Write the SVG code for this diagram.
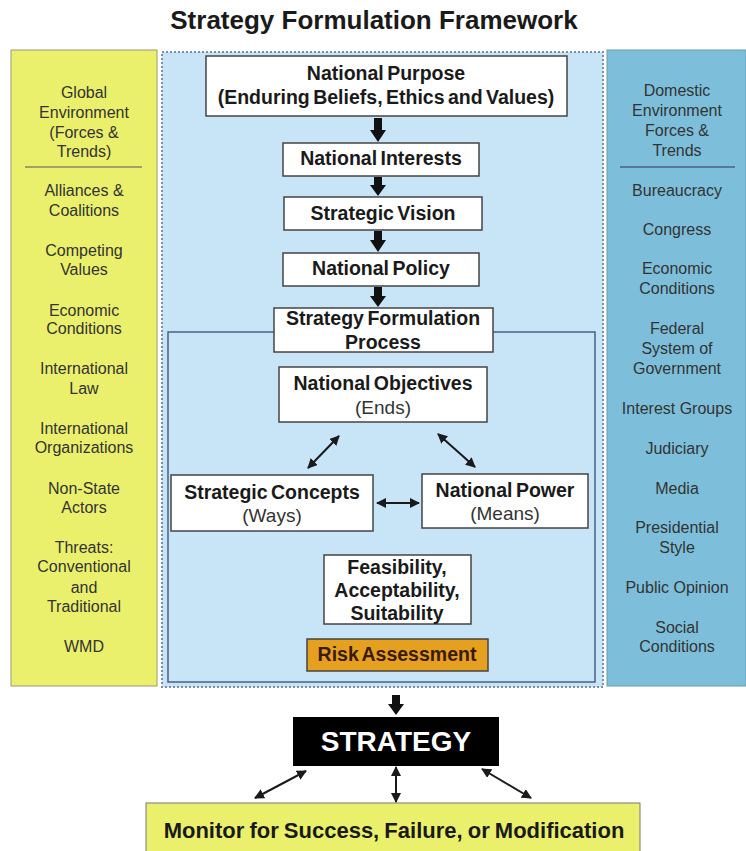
<svg xmlns="http://www.w3.org/2000/svg" width="746" height="851" viewBox="0 0 746 851">
<defs>
<marker id="ah" viewBox="0 0 10 10" refX="9" refY="5" markerWidth="5" markerHeight="5" orient="auto-start-reverse" markerUnits="strokeWidth">
<path d="M0,0 L10,5 L0,10 z" fill="#1a1a1a"/>
</marker>
<style>
.side{font-family:"Liberation Sans",Arial,sans-serif;font-size:16px;fill:#333;text-anchor:middle}
.b{font-family:"Liberation Sans",Arial,sans-serif;font-size:19.5px;font-weight:bold;fill:#1a1a1a;text-anchor:middle;word-spacing:-2px}
.r{font-family:"Liberation Sans",Arial,sans-serif;font-size:19px;fill:#333;text-anchor:middle}
.box{fill:#fff;stroke:#444;stroke-width:1.5}
.thin{stroke:#1a1a1a;stroke-width:2;fill:none;marker-start:url(#ah);marker-end:url(#ah)}
.thick{fill:#111}
</style>
</defs>
<rect width="746" height="851" fill="#fff"/>
<text x="374" y="29" style="font-family:'Liberation Sans',Arial,sans-serif;font-size:26px;font-weight:bold;fill:#1a1a1a;text-anchor:middle">Strategy Formulation Framework</text>

<g id="global-panel">
<rect x="11" y="50" width="146" height="636" fill="#EAF06C" stroke="#9a9a70" stroke-width="1"/>
<text class="side" x="84" y="98">Global</text>
<text class="side" x="84" y="118">Environment</text>
<text class="side" x="84" y="138">(Forces &amp;</text>
<text class="side" x="84" y="157">Trends)</text>
<line x1="25" y1="167" x2="142" y2="167" stroke="#555" stroke-width="1"/>
<text class="side" x="84" y="196">Alliances &amp;</text>
<text class="side" x="84" y="216">Coalitions</text>
<text class="side" x="84" y="256">Competing</text>
<text class="side" x="84" y="275">Values</text>
<text class="side" x="84" y="316">Economic</text>
<text class="side" x="84" y="334">Conditions</text>
<text class="side" x="84" y="374">International</text>
<text class="side" x="84" y="394">Law</text>
<text class="side" x="84" y="434">International</text>
<text class="side" x="84" y="453">Organizations</text>
<text class="side" x="84" y="494">Non-State</text>
<text class="side" x="84" y="513">Actors</text>
<text class="side" x="84" y="553">Threats:</text>
<text class="side" x="84" y="572">Conventional</text>
<text class="side" x="84" y="593">and</text>
<text class="side" x="84" y="612">Traditional</text>
<text class="side" x="84" y="652">WMD</text>
</g>

<g id="domestic-panel">
<rect x="607" y="50" width="139" height="636" fill="#7DBFDA" stroke="#6a9ab0" stroke-width="1"/>
<text class="side" x="677" y="96">Domestic</text>
<text class="side" x="677" y="116">Environment</text>
<text class="side" x="677" y="136">Forces &amp;</text>
<text class="side" x="677" y="156">Trends</text>
<line x1="620" y1="167" x2="735" y2="167" stroke="#335" stroke-width="1"/>
<text class="side" x="677" y="196">Bureaucracy</text>
<text class="side" x="677" y="235">Congress</text>
<text class="side" x="677" y="274">Economic</text>
<text class="side" x="677" y="294">Conditions</text>
<text class="side" x="677" y="334">Federal</text>
<text class="side" x="677" y="354">System of</text>
<text class="side" x="677" y="374">Government</text>
<text class="side" x="677" y="414">Interest Groups</text>
<text class="side" x="677" y="454">Judiciary</text>
<text class="side" x="677" y="494">Media</text>
<text class="side" x="677" y="533">Presidential</text>
<text class="side" x="677" y="553">Style</text>
<text class="side" x="677" y="593">Public Opinion</text>
<text class="side" x="677" y="633">Social</text>
<text class="side" x="677" y="652">Conditions</text>
</g>

<g id="center-panel">
<rect x="162" y="52" width="441" height="635" fill="#C8E4F7" stroke="#7a8fa8" stroke-width="2" stroke-dasharray="2,2"/>
</g>
<g id="process-panel">
<rect x="168" y="332" width="427" height="350" fill="#C8E4F7" stroke="#4a6080" stroke-width="1.5"/>
</g>

<g id="national-purpose">
<rect class="box" x="206" y="56" width="361" height="60"/>
<text class="b" x="386" y="80">National Purpose</text>
<text class="b" x="386" y="104">(Enduring Beliefs, Ethics and Values)</text>
</g>
<g id="national-interests">
<rect class="box" x="283" y="143" width="196" height="33"/>
<text class="b" x="381" y="165">National Interests</text>
</g>
<g id="strategic-vision">
<rect class="box" x="284" y="197" width="198" height="33"/>
<text class="b" x="383" y="220">Strategic Vision</text>
</g>
<g id="national-policy">
<rect class="box" x="283" y="253" width="196" height="33"/>
<text class="b" x="381" y="275">National Policy</text>
</g>
<g id="strategy-formulation-process">
<rect class="box" x="274" y="308" width="219" height="44"/>
<text class="b" x="383" y="325">Strategy Formulation</text>
<text class="b" x="383" y="349">Process</text>
</g>
<g id="national-objectives">
<rect class="box" x="279" y="367" width="208" height="55"/>
<text class="b" x="383" y="390">National Objectives</text>
<text class="r" x="383" y="414">(Ends)</text>
</g>
<g id="strategic-concepts">
<rect class="box" x="171" y="475" width="202" height="56"/>
<text class="b" x="272" y="499">Strategic Concepts</text>
<text class="r" x="272" y="522">(Ways)</text>
</g>
<g id="national-power">
<rect class="box" x="422" y="474" width="166" height="54"/>
<text class="b" x="505" y="497">National Power</text>
<text class="r" x="505" y="520">(Means)</text>
</g>
<g id="feasibility">
<rect class="box" x="324" y="555" width="147" height="69"/>
<text class="b" x="397" y="574">Feasibility,</text>
<text class="b" x="397" y="597">Acceptability,</text>
<text class="b" x="397" y="620">Suitability</text>
</g>
<g id="risk-assessment">
<rect x="307" y="639" width="181" height="32" fill="#E6A020" stroke="#444" stroke-width="1.5"/>
<text class="b" x="397" y="661" style="fill:#3a1a00">Risk Assessment</text>
</g>
<g id="strategy">
<rect x="293" y="717" width="206" height="49" fill="#000"/>
<text x="396" y="751" style="font-family:'Liberation Sans',Arial,sans-serif;font-size:28px;font-weight:bold;fill:#fff;text-anchor:middle">STRATEGY</text>
</g>
<g id="monitor">
<rect x="146" y="803" width="494" height="60" fill="#EAF06C" stroke="#777" stroke-width="1"/>
<text x="394" y="838" style="font-family:'Liberation Sans',Arial,sans-serif;font-size:22px;font-weight:bold;fill:#1a1a1a;text-anchor:middle;word-spacing:-1px">Monitor for Success, Failure, or Modification</text>
</g>

<g id="connectors">
<polygon class="thick" points="374,118 382,118 382,130 386,130 378,142 370,130 374,130"/>
<polygon class="thick" points="374,177 382,177 382,185 386,185 378,196 370,185 374,185"/>
<polygon class="thick" points="374,231 382,231 382,240 386,240 378,252 370,240 374,240"/>
<polygon class="thick" points="374,287 382,287 382,296 386,296 378,307 370,296 374,296"/>
<polygon class="thick" points="392,695 400,695 400,704 404,704 396,715 388,704 392,704"/>
<line class="thin" x1="339" y1="436" x2="308" y2="468"/>
<line class="thin" x1="438" y1="434" x2="475" y2="467"/>
<line class="thin" x1="377" y1="503" x2="419" y2="503"/>
<line class="thin" x1="306" y1="771" x2="255" y2="798"/>
<line class="thin" x1="396" y1="767" x2="396" y2="802"/>
<line class="thin" x1="482" y1="769" x2="531" y2="798"/>
</g>
</svg>
